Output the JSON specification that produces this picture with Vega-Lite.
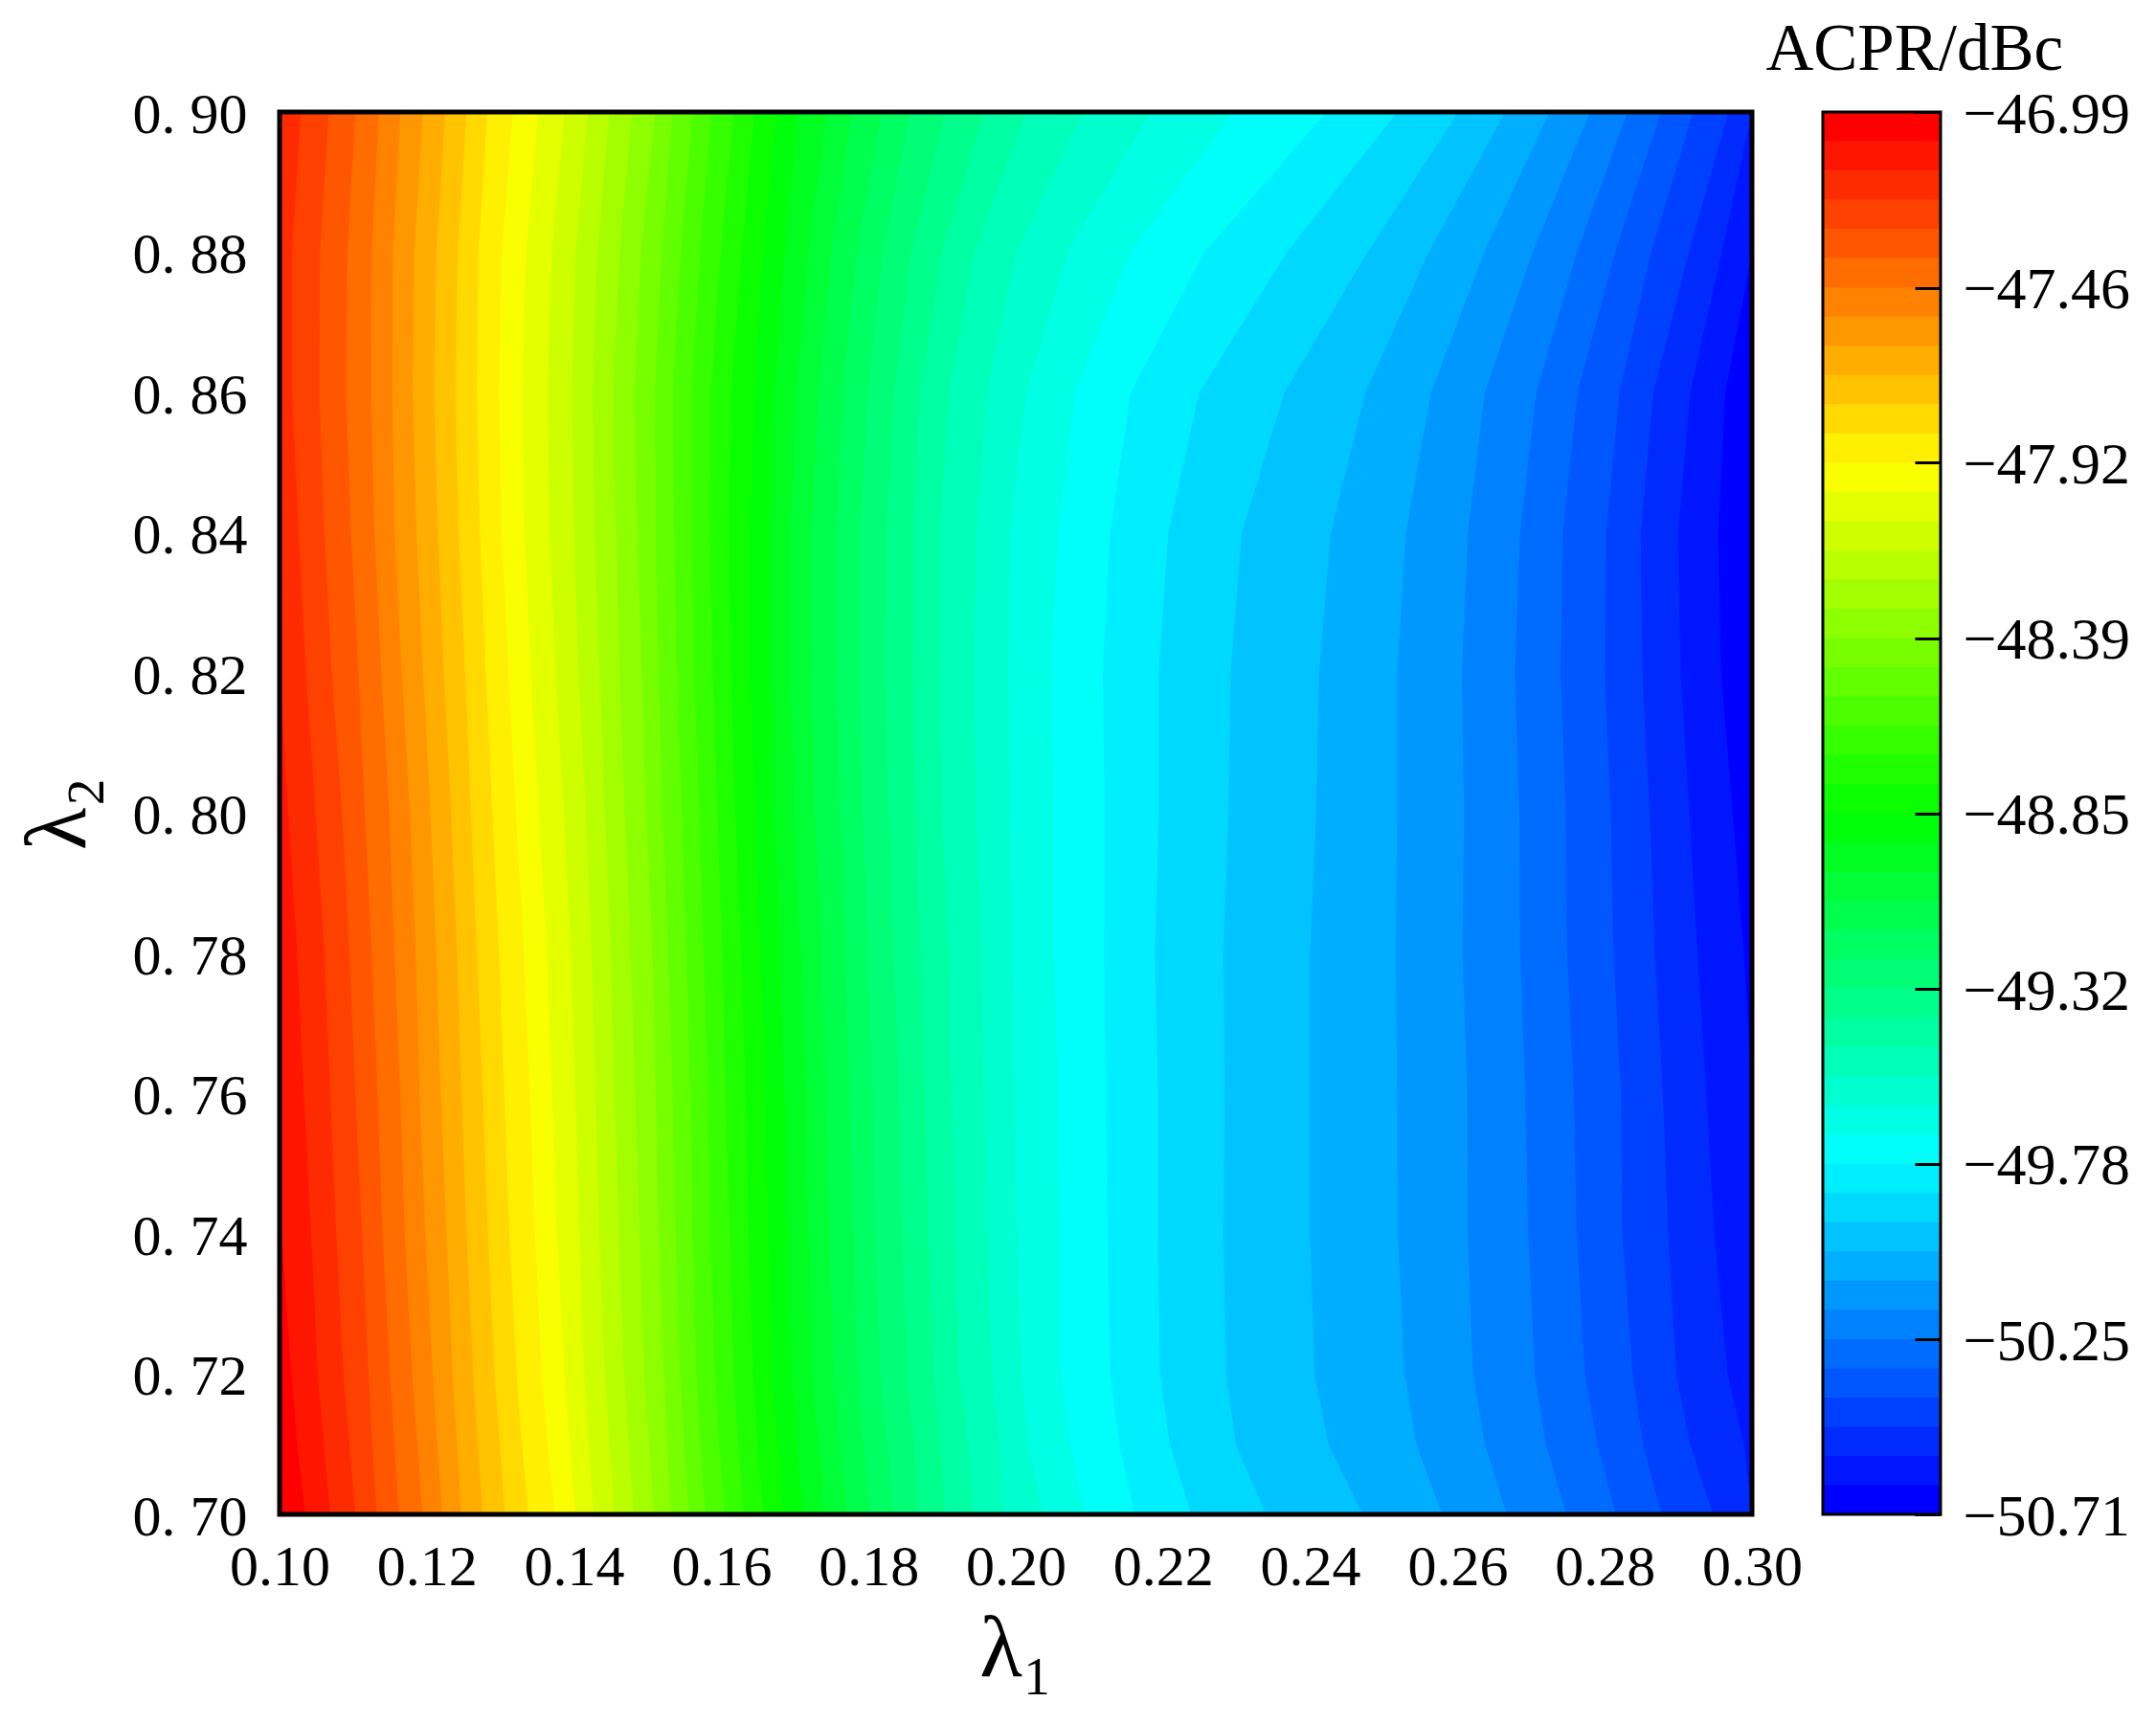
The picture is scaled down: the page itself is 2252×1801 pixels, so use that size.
{
"$schema":"https://vega.github.io/schema/vega-lite/v6.json",
"background":"white",
"padding":{"left":14,"top":18,"right":10,"bottom":10},
"bounds":"flush",
"spacing":74,
"config":{"font":"Liberation Serif","view":{"stroke":null},"axis":{"grid":false,"domain":false,"labelColor":"black","titleColor":"black","labelFont":"Liberation Serif","titleFont":"Liberation Serif","labelFontSize":60,"titleFontWeight":"normal","labelOverlap":false,"labelFlush":false}},
"datasets":{
"contours":[
{"acpr":-47.029,"lambda2":0.7,"lambda1":0.1},{"acpr":-47.029,"lambda2":0.9,"lambda1":0.1},
{"acpr":-47.106,"lambda2":0.7,"lambda1":0.1035},{"acpr":-47.106,"lambda2":0.71,"lambda1":0.1024},{"acpr":-47.106,"lambda2":0.72,"lambda1":0.1016},{"acpr":-47.106,"lambda2":0.74,"lambda1":0.1003},{"acpr":-47.106,"lambda2":0.76,"lambda1":0.1},{"acpr":-47.106,"lambda2":0.9,"lambda1":0.1},
{"acpr":-47.184,"lambda2":0.7,"lambda1":0.1069},{"acpr":-47.184,"lambda2":0.71,"lambda1":0.106},{"acpr":-47.184,"lambda2":0.72,"lambda1":0.1052},{"acpr":-47.184,"lambda2":0.74,"lambda1":0.1043},{"acpr":-47.184,"lambda2":0.76,"lambda1":0.1033},{"acpr":-47.184,"lambda2":0.78,"lambda1":0.1024},{"acpr":-47.184,"lambda2":0.8,"lambda1":0.1012},{"acpr":-47.184,"lambda2":0.82,"lambda1":0.1},{"acpr":-47.184,"lambda2":0.9,"lambda1":0.1},
{"acpr":-47.261,"lambda2":0.7,"lambda1":0.1103},{"acpr":-47.261,"lambda2":0.71,"lambda1":0.1095},{"acpr":-47.261,"lambda2":0.72,"lambda1":0.1087},{"acpr":-47.261,"lambda2":0.74,"lambda1":0.1077},{"acpr":-47.261,"lambda2":0.76,"lambda1":0.1069},{"acpr":-47.261,"lambda2":0.78,"lambda1":0.1061},{"acpr":-47.261,"lambda2":0.8,"lambda1":0.1049},{"acpr":-47.261,"lambda2":0.82,"lambda1":0.1036},{"acpr":-47.261,"lambda2":0.84,"lambda1":0.1026},{"acpr":-47.261,"lambda2":0.86,"lambda1":0.1017},{"acpr":-47.261,"lambda2":0.88,"lambda1":0.1017},{"acpr":-47.261,"lambda2":0.9,"lambda1":0.1029},
{"acpr":-47.339,"lambda2":0.7,"lambda1":0.1132},{"acpr":-47.339,"lambda2":0.71,"lambda1":0.1126},{"acpr":-47.339,"lambda2":0.72,"lambda1":0.1121},{"acpr":-47.339,"lambda2":0.74,"lambda1":0.1112},{"acpr":-47.339,"lambda2":0.76,"lambda1":0.1103},{"acpr":-47.339,"lambda2":0.78,"lambda1":0.1095},{"acpr":-47.339,"lambda2":0.8,"lambda1":0.1085},{"acpr":-47.339,"lambda2":0.82,"lambda1":0.1071},{"acpr":-47.339,"lambda2":0.84,"lambda1":0.1061},{"acpr":-47.339,"lambda2":0.86,"lambda1":0.1054},{"acpr":-47.339,"lambda2":0.88,"lambda1":0.1055},{"acpr":-47.339,"lambda2":0.9,"lambda1":0.1067},
{"acpr":-47.416,"lambda2":0.7,"lambda1":0.1162},{"acpr":-47.416,"lambda2":0.71,"lambda1":0.1156},{"acpr":-47.416,"lambda2":0.72,"lambda1":0.115},{"acpr":-47.416,"lambda2":0.74,"lambda1":0.114},{"acpr":-47.416,"lambda2":0.76,"lambda1":0.1133},{"acpr":-47.416,"lambda2":0.78,"lambda1":0.1125},{"acpr":-47.416,"lambda2":0.8,"lambda1":0.1116},{"acpr":-47.416,"lambda2":0.82,"lambda1":0.1107},{"acpr":-47.416,"lambda2":0.84,"lambda1":0.1097},{"acpr":-47.416,"lambda2":0.86,"lambda1":0.109},{"acpr":-47.416,"lambda2":0.88,"lambda1":0.1092},{"acpr":-47.416,"lambda2":0.9,"lambda1":0.1103},
{"acpr":-47.494,"lambda2":0.7,"lambda1":0.1194},{"acpr":-47.494,"lambda2":0.71,"lambda1":0.1187},{"acpr":-47.494,"lambda2":0.72,"lambda1":0.118},{"acpr":-47.494,"lambda2":0.74,"lambda1":0.117},{"acpr":-47.494,"lambda2":0.76,"lambda1":0.1164},{"acpr":-47.494,"lambda2":0.78,"lambda1":0.1156},{"acpr":-47.494,"lambda2":0.8,"lambda1":0.1149},{"acpr":-47.494,"lambda2":0.82,"lambda1":0.1138},{"acpr":-47.494,"lambda2":0.84,"lambda1":0.1129},{"acpr":-47.494,"lambda2":0.86,"lambda1":0.1124},{"acpr":-47.494,"lambda2":0.88,"lambda1":0.1125},{"acpr":-47.494,"lambda2":0.9,"lambda1":0.1135},
{"acpr":-47.571,"lambda2":0.7,"lambda1":0.1221},{"acpr":-47.571,"lambda2":0.71,"lambda1":0.1214},{"acpr":-47.571,"lambda2":0.72,"lambda1":0.1208},{"acpr":-47.571,"lambda2":0.74,"lambda1":0.1198},{"acpr":-47.571,"lambda2":0.76,"lambda1":0.119},{"acpr":-47.571,"lambda2":0.78,"lambda1":0.1185},{"acpr":-47.571,"lambda2":0.8,"lambda1":0.1177},{"acpr":-47.571,"lambda2":0.82,"lambda1":0.1166},{"acpr":-47.571,"lambda2":0.84,"lambda1":0.1156},{"acpr":-47.571,"lambda2":0.86,"lambda1":0.1153},{"acpr":-47.571,"lambda2":0.88,"lambda1":0.1154},{"acpr":-47.571,"lambda2":0.9,"lambda1":0.1164},
{"acpr":-47.649,"lambda2":0.7,"lambda1":0.1247},{"acpr":-47.649,"lambda2":0.71,"lambda1":0.1241},{"acpr":-47.649,"lambda2":0.72,"lambda1":0.1235},{"acpr":-47.649,"lambda2":0.74,"lambda1":0.1227},{"acpr":-47.649,"lambda2":0.76,"lambda1":0.1219},{"acpr":-47.649,"lambda2":0.78,"lambda1":0.1213},{"acpr":-47.649,"lambda2":0.8,"lambda1":0.1205},{"acpr":-47.649,"lambda2":0.82,"lambda1":0.1195},{"acpr":-47.649,"lambda2":0.84,"lambda1":0.1186},{"acpr":-47.649,"lambda2":0.86,"lambda1":0.1181},{"acpr":-47.649,"lambda2":0.88,"lambda1":0.1183},{"acpr":-47.649,"lambda2":0.9,"lambda1":0.1195},
{"acpr":-47.726,"lambda2":0.7,"lambda1":0.1276},{"acpr":-47.726,"lambda2":0.71,"lambda1":0.1269},{"acpr":-47.726,"lambda2":0.72,"lambda1":0.1263},{"acpr":-47.726,"lambda2":0.74,"lambda1":0.1254},{"acpr":-47.726,"lambda2":0.76,"lambda1":0.1247},{"acpr":-47.726,"lambda2":0.78,"lambda1":0.1241},{"acpr":-47.726,"lambda2":0.8,"lambda1":0.1233},{"acpr":-47.726,"lambda2":0.82,"lambda1":0.1223},{"acpr":-47.726,"lambda2":0.84,"lambda1":0.1215},{"acpr":-47.726,"lambda2":0.86,"lambda1":0.121},{"acpr":-47.726,"lambda2":0.88,"lambda1":0.1213},{"acpr":-47.726,"lambda2":0.9,"lambda1":0.1225},
{"acpr":-47.804,"lambda2":0.7,"lambda1":0.1306},{"acpr":-47.804,"lambda2":0.71,"lambda1":0.1299},{"acpr":-47.804,"lambda2":0.72,"lambda1":0.1292},{"acpr":-47.804,"lambda2":0.74,"lambda1":0.1283},{"acpr":-47.804,"lambda2":0.76,"lambda1":0.1276},{"acpr":-47.804,"lambda2":0.78,"lambda1":0.1268},{"acpr":-47.804,"lambda2":0.8,"lambda1":0.126},{"acpr":-47.804,"lambda2":0.82,"lambda1":0.1252},{"acpr":-47.804,"lambda2":0.84,"lambda1":0.1243},{"acpr":-47.804,"lambda2":0.86,"lambda1":0.1239},{"acpr":-47.804,"lambda2":0.88,"lambda1":0.1242},{"acpr":-47.804,"lambda2":0.9,"lambda1":0.1254},
{"acpr":-47.881,"lambda2":0.7,"lambda1":0.1338},{"acpr":-47.881,"lambda2":0.71,"lambda1":0.1329},{"acpr":-47.881,"lambda2":0.72,"lambda1":0.1322},{"acpr":-47.881,"lambda2":0.74,"lambda1":0.1312},{"acpr":-47.881,"lambda2":0.76,"lambda1":0.1305},{"acpr":-47.881,"lambda2":0.78,"lambda1":0.1298},{"acpr":-47.881,"lambda2":0.8,"lambda1":0.1289},{"acpr":-47.881,"lambda2":0.82,"lambda1":0.128},{"acpr":-47.881,"lambda2":0.84,"lambda1":0.1272},{"acpr":-47.881,"lambda2":0.86,"lambda1":0.1268},{"acpr":-47.881,"lambda2":0.88,"lambda1":0.127},{"acpr":-47.881,"lambda2":0.9,"lambda1":0.1282},
{"acpr":-47.959,"lambda2":0.7,"lambda1":0.1374},{"acpr":-47.959,"lambda2":0.71,"lambda1":0.1364},{"acpr":-47.959,"lambda2":0.72,"lambda1":0.1356},{"acpr":-47.959,"lambda2":0.74,"lambda1":0.1347},{"acpr":-47.959,"lambda2":0.76,"lambda1":0.134},{"acpr":-47.959,"lambda2":0.78,"lambda1":0.1332},{"acpr":-47.959,"lambda2":0.8,"lambda1":0.1321},{"acpr":-47.959,"lambda2":0.82,"lambda1":0.1311},{"acpr":-47.959,"lambda2":0.84,"lambda1":0.1302},{"acpr":-47.959,"lambda2":0.86,"lambda1":0.1298},{"acpr":-47.959,"lambda2":0.88,"lambda1":0.1302},{"acpr":-47.959,"lambda2":0.9,"lambda1":0.1317},
{"acpr":-48.036,"lambda2":0.7,"lambda1":0.1402},{"acpr":-48.036,"lambda2":0.71,"lambda1":0.1394},{"acpr":-48.036,"lambda2":0.72,"lambda1":0.1387},{"acpr":-48.036,"lambda2":0.74,"lambda1":0.1377},{"acpr":-48.036,"lambda2":0.76,"lambda1":0.137},{"acpr":-48.036,"lambda2":0.78,"lambda1":0.1363},{"acpr":-48.036,"lambda2":0.8,"lambda1":0.1352},{"acpr":-48.036,"lambda2":0.82,"lambda1":0.1341},{"acpr":-48.036,"lambda2":0.84,"lambda1":0.1333},{"acpr":-48.036,"lambda2":0.86,"lambda1":0.1329},{"acpr":-48.036,"lambda2":0.88,"lambda1":0.1335},{"acpr":-48.036,"lambda2":0.9,"lambda1":0.1351},
{"acpr":-48.114,"lambda2":0.7,"lambda1":0.1427},{"acpr":-48.114,"lambda2":0.71,"lambda1":0.142},{"acpr":-48.114,"lambda2":0.72,"lambda1":0.1414},{"acpr":-48.114,"lambda2":0.74,"lambda1":0.1407},{"acpr":-48.114,"lambda2":0.76,"lambda1":0.1402},{"acpr":-48.114,"lambda2":0.78,"lambda1":0.1396},{"acpr":-48.114,"lambda2":0.8,"lambda1":0.1386},{"acpr":-48.114,"lambda2":0.82,"lambda1":0.1375},{"acpr":-48.114,"lambda2":0.84,"lambda1":0.1367},{"acpr":-48.114,"lambda2":0.86,"lambda1":0.1364},{"acpr":-48.114,"lambda2":0.88,"lambda1":0.137},{"acpr":-48.114,"lambda2":0.9,"lambda1":0.1387},
{"acpr":-48.191,"lambda2":0.7,"lambda1":0.1455},{"acpr":-48.191,"lambda2":0.71,"lambda1":0.1448},{"acpr":-48.191,"lambda2":0.72,"lambda1":0.1442},{"acpr":-48.191,"lambda2":0.74,"lambda1":0.1434},{"acpr":-48.191,"lambda2":0.76,"lambda1":0.1429},{"acpr":-48.191,"lambda2":0.78,"lambda1":0.1424},{"acpr":-48.191,"lambda2":0.8,"lambda1":0.1416},{"acpr":-48.191,"lambda2":0.82,"lambda1":0.1406},{"acpr":-48.191,"lambda2":0.84,"lambda1":0.14},{"acpr":-48.191,"lambda2":0.86,"lambda1":0.1397},{"acpr":-48.191,"lambda2":0.88,"lambda1":0.1402},{"acpr":-48.191,"lambda2":0.9,"lambda1":0.1419},
{"acpr":-48.269,"lambda2":0.7,"lambda1":0.1481},{"acpr":-48.269,"lambda2":0.71,"lambda1":0.1475},{"acpr":-48.269,"lambda2":0.72,"lambda1":0.1468},{"acpr":-48.269,"lambda2":0.74,"lambda1":0.1461},{"acpr":-48.269,"lambda2":0.76,"lambda1":0.1455},{"acpr":-48.269,"lambda2":0.78,"lambda1":0.145},{"acpr":-48.269,"lambda2":0.8,"lambda1":0.1442},{"acpr":-48.269,"lambda2":0.82,"lambda1":0.1435},{"acpr":-48.269,"lambda2":0.84,"lambda1":0.1428},{"acpr":-48.269,"lambda2":0.86,"lambda1":0.1425},{"acpr":-48.269,"lambda2":0.88,"lambda1":0.1432},{"acpr":-48.269,"lambda2":0.9,"lambda1":0.1448},
{"acpr":-48.346,"lambda2":0.7,"lambda1":0.1509},{"acpr":-48.346,"lambda2":0.71,"lambda1":0.1502},{"acpr":-48.346,"lambda2":0.72,"lambda1":0.1495},{"acpr":-48.346,"lambda2":0.74,"lambda1":0.1489},{"acpr":-48.346,"lambda2":0.76,"lambda1":0.1483},{"acpr":-48.346,"lambda2":0.78,"lambda1":0.1477},{"acpr":-48.346,"lambda2":0.8,"lambda1":0.1469},{"acpr":-48.346,"lambda2":0.82,"lambda1":0.1462},{"acpr":-48.346,"lambda2":0.84,"lambda1":0.1457},{"acpr":-48.346,"lambda2":0.86,"lambda1":0.1453},{"acpr":-48.346,"lambda2":0.88,"lambda1":0.1462},{"acpr":-48.346,"lambda2":0.9,"lambda1":0.1479},
{"acpr":-48.424,"lambda2":0.7,"lambda1":0.1532},{"acpr":-48.424,"lambda2":0.71,"lambda1":0.1527},{"acpr":-48.424,"lambda2":0.72,"lambda1":0.1522},{"acpr":-48.424,"lambda2":0.74,"lambda1":0.1515},{"acpr":-48.424,"lambda2":0.76,"lambda1":0.1511},{"acpr":-48.424,"lambda2":0.78,"lambda1":0.1507},{"acpr":-48.424,"lambda2":0.8,"lambda1":0.1498},{"acpr":-48.424,"lambda2":0.82,"lambda1":0.1492},{"acpr":-48.424,"lambda2":0.84,"lambda1":0.1486},{"acpr":-48.424,"lambda2":0.86,"lambda1":0.1482},{"acpr":-48.424,"lambda2":0.88,"lambda1":0.1491},{"acpr":-48.424,"lambda2":0.9,"lambda1":0.151},
{"acpr":-48.501,"lambda2":0.7,"lambda1":0.1556},{"acpr":-48.501,"lambda2":0.71,"lambda1":0.155},{"acpr":-48.501,"lambda2":0.72,"lambda1":0.1544},{"acpr":-48.501,"lambda2":0.74,"lambda1":0.1538},{"acpr":-48.501,"lambda2":0.76,"lambda1":0.1534},{"acpr":-48.501,"lambda2":0.78,"lambda1":0.1528},{"acpr":-48.501,"lambda2":0.8,"lambda1":0.152},{"acpr":-48.501,"lambda2":0.82,"lambda1":0.1515},{"acpr":-48.501,"lambda2":0.84,"lambda1":0.1511},{"acpr":-48.501,"lambda2":0.86,"lambda1":0.151},{"acpr":-48.501,"lambda2":0.88,"lambda1":0.1519},{"acpr":-48.501,"lambda2":0.9,"lambda1":0.1534},
{"acpr":-48.579,"lambda2":0.7,"lambda1":0.1578},{"acpr":-48.579,"lambda2":0.71,"lambda1":0.1572},{"acpr":-48.579,"lambda2":0.72,"lambda1":0.1566},{"acpr":-48.579,"lambda2":0.74,"lambda1":0.1561},{"acpr":-48.579,"lambda2":0.76,"lambda1":0.1558},{"acpr":-48.579,"lambda2":0.78,"lambda1":0.1553},{"acpr":-48.579,"lambda2":0.8,"lambda1":0.1546},{"acpr":-48.579,"lambda2":0.82,"lambda1":0.154},{"acpr":-48.579,"lambda2":0.84,"lambda1":0.1536},{"acpr":-48.579,"lambda2":0.86,"lambda1":0.1534},{"acpr":-48.579,"lambda2":0.88,"lambda1":0.1545},{"acpr":-48.579,"lambda2":0.9,"lambda1":0.1561},
{"acpr":-48.656,"lambda2":0.7,"lambda1":0.1605},{"acpr":-48.656,"lambda2":0.71,"lambda1":0.1597},{"acpr":-48.656,"lambda2":0.72,"lambda1":0.1591},{"acpr":-48.656,"lambda2":0.74,"lambda1":0.1585},{"acpr":-48.656,"lambda2":0.76,"lambda1":0.1582},{"acpr":-48.656,"lambda2":0.78,"lambda1":0.1576},{"acpr":-48.656,"lambda2":0.8,"lambda1":0.157},{"acpr":-48.656,"lambda2":0.82,"lambda1":0.1563},{"acpr":-48.656,"lambda2":0.84,"lambda1":0.156},{"acpr":-48.656,"lambda2":0.86,"lambda1":0.156},{"acpr":-48.656,"lambda2":0.88,"lambda1":0.1571},{"acpr":-48.656,"lambda2":0.9,"lambda1":0.1587},
{"acpr":-48.734,"lambda2":0.7,"lambda1":0.1631},{"acpr":-48.734,"lambda2":0.71,"lambda1":0.1623},{"acpr":-48.734,"lambda2":0.72,"lambda1":0.1617},{"acpr":-48.734,"lambda2":0.74,"lambda1":0.1611},{"acpr":-48.734,"lambda2":0.76,"lambda1":0.1606},{"acpr":-48.734,"lambda2":0.78,"lambda1":0.1601},{"acpr":-48.734,"lambda2":0.8,"lambda1":0.1595},{"acpr":-48.734,"lambda2":0.82,"lambda1":0.1588},{"acpr":-48.734,"lambda2":0.84,"lambda1":0.1585},{"acpr":-48.734,"lambda2":0.86,"lambda1":0.1586},{"acpr":-48.734,"lambda2":0.88,"lambda1":0.1599},{"acpr":-48.734,"lambda2":0.9,"lambda1":0.1617},
{"acpr":-48.811,"lambda2":0.7,"lambda1":0.1657},{"acpr":-48.811,"lambda2":0.71,"lambda1":0.1649},{"acpr":-48.811,"lambda2":0.72,"lambda1":0.1643},{"acpr":-48.811,"lambda2":0.74,"lambda1":0.1637},{"acpr":-48.811,"lambda2":0.76,"lambda1":0.1633},{"acpr":-48.811,"lambda2":0.78,"lambda1":0.1627},{"acpr":-48.811,"lambda2":0.8,"lambda1":0.1619},{"acpr":-48.811,"lambda2":0.82,"lambda1":0.1613},{"acpr":-48.811,"lambda2":0.84,"lambda1":0.161},{"acpr":-48.811,"lambda2":0.86,"lambda1":0.1613},{"acpr":-48.811,"lambda2":0.88,"lambda1":0.1628},{"acpr":-48.811,"lambda2":0.9,"lambda1":0.1645},
{"acpr":-48.889,"lambda2":0.7,"lambda1":0.1684},{"acpr":-48.889,"lambda2":0.71,"lambda1":0.1676},{"acpr":-48.889,"lambda2":0.72,"lambda1":0.1669},{"acpr":-48.889,"lambda2":0.74,"lambda1":0.1664},{"acpr":-48.889,"lambda2":0.76,"lambda1":0.1659},{"acpr":-48.889,"lambda2":0.78,"lambda1":0.1653},{"acpr":-48.889,"lambda2":0.8,"lambda1":0.1646},{"acpr":-48.889,"lambda2":0.82,"lambda1":0.1639},{"acpr":-48.889,"lambda2":0.84,"lambda1":0.1639},{"acpr":-48.889,"lambda2":0.86,"lambda1":0.1645},{"acpr":-48.889,"lambda2":0.88,"lambda1":0.1656},{"acpr":-48.889,"lambda2":0.9,"lambda1":0.1675},
{"acpr":-48.966,"lambda2":0.7,"lambda1":0.1711},{"acpr":-48.966,"lambda2":0.71,"lambda1":0.1703},{"acpr":-48.966,"lambda2":0.72,"lambda1":0.1696},{"acpr":-48.966,"lambda2":0.74,"lambda1":0.169},{"acpr":-48.966,"lambda2":0.76,"lambda1":0.1686},{"acpr":-48.966,"lambda2":0.78,"lambda1":0.168},{"acpr":-48.966,"lambda2":0.8,"lambda1":0.1672},{"acpr":-48.966,"lambda2":0.82,"lambda1":0.1667},{"acpr":-48.966,"lambda2":0.84,"lambda1":0.1667},{"acpr":-48.966,"lambda2":0.86,"lambda1":0.1673},{"acpr":-48.966,"lambda2":0.88,"lambda1":0.1686},{"acpr":-48.966,"lambda2":0.9,"lambda1":0.1705},
{"acpr":-49.044,"lambda2":0.7,"lambda1":0.174},{"acpr":-49.044,"lambda2":0.71,"lambda1":0.1731},{"acpr":-49.044,"lambda2":0.72,"lambda1":0.1724},{"acpr":-49.044,"lambda2":0.74,"lambda1":0.1718},{"acpr":-49.044,"lambda2":0.76,"lambda1":0.1714},{"acpr":-49.044,"lambda2":0.78,"lambda1":0.1708},{"acpr":-49.044,"lambda2":0.8,"lambda1":0.1699},{"acpr":-49.044,"lambda2":0.82,"lambda1":0.1694},{"acpr":-49.044,"lambda2":0.84,"lambda1":0.1694},{"acpr":-49.044,"lambda2":0.86,"lambda1":0.1702},{"acpr":-49.044,"lambda2":0.88,"lambda1":0.1718},{"acpr":-49.044,"lambda2":0.9,"lambda1":0.1743},
{"acpr":-49.121,"lambda2":0.7,"lambda1":0.1771},{"acpr":-49.121,"lambda2":0.71,"lambda1":0.1761},{"acpr":-49.121,"lambda2":0.72,"lambda1":0.1753},{"acpr":-49.121,"lambda2":0.74,"lambda1":0.1747},{"acpr":-49.121,"lambda2":0.76,"lambda1":0.1742},{"acpr":-49.121,"lambda2":0.78,"lambda1":0.1737},{"acpr":-49.121,"lambda2":0.8,"lambda1":0.1727},{"acpr":-49.121,"lambda2":0.82,"lambda1":0.1722},{"acpr":-49.121,"lambda2":0.84,"lambda1":0.1723},{"acpr":-49.121,"lambda2":0.86,"lambda1":0.1732},{"acpr":-49.121,"lambda2":0.88,"lambda1":0.175},{"acpr":-49.121,"lambda2":0.9,"lambda1":0.1777},
{"acpr":-49.199,"lambda2":0.7,"lambda1":0.1802},{"acpr":-49.199,"lambda2":0.71,"lambda1":0.1793},{"acpr":-49.199,"lambda2":0.72,"lambda1":0.1785},{"acpr":-49.199,"lambda2":0.74,"lambda1":0.1779},{"acpr":-49.199,"lambda2":0.76,"lambda1":0.1774},{"acpr":-49.199,"lambda2":0.78,"lambda1":0.1769},{"acpr":-49.199,"lambda2":0.8,"lambda1":0.1761},{"acpr":-49.199,"lambda2":0.82,"lambda1":0.1755},{"acpr":-49.199,"lambda2":0.84,"lambda1":0.1756},{"acpr":-49.199,"lambda2":0.86,"lambda1":0.1765},{"acpr":-49.199,"lambda2":0.88,"lambda1":0.1784},{"acpr":-49.199,"lambda2":0.9,"lambda1":0.1818},
{"acpr":-49.276,"lambda2":0.7,"lambda1":0.1835},{"acpr":-49.276,"lambda2":0.71,"lambda1":0.1826},{"acpr":-49.276,"lambda2":0.72,"lambda1":0.1816},{"acpr":-49.276,"lambda2":0.74,"lambda1":0.181},{"acpr":-49.276,"lambda2":0.76,"lambda1":0.1806},{"acpr":-49.276,"lambda2":0.78,"lambda1":0.18},{"acpr":-49.276,"lambda2":0.8,"lambda1":0.1792},{"acpr":-49.276,"lambda2":0.82,"lambda1":0.1789},{"acpr":-49.276,"lambda2":0.84,"lambda1":0.1789},{"acpr":-49.276,"lambda2":0.86,"lambda1":0.1799},{"acpr":-49.276,"lambda2":0.88,"lambda1":0.182},{"acpr":-49.276,"lambda2":0.9,"lambda1":0.1857},
{"acpr":-49.354,"lambda2":0.7,"lambda1":0.1868},{"acpr":-49.354,"lambda2":0.71,"lambda1":0.1862},{"acpr":-49.354,"lambda2":0.72,"lambda1":0.1852},{"acpr":-49.354,"lambda2":0.74,"lambda1":0.1846},{"acpr":-49.354,"lambda2":0.76,"lambda1":0.1841},{"acpr":-49.354,"lambda2":0.78,"lambda1":0.1835},{"acpr":-49.354,"lambda2":0.8,"lambda1":0.1827},{"acpr":-49.354,"lambda2":0.82,"lambda1":0.1823},{"acpr":-49.354,"lambda2":0.84,"lambda1":0.1824},{"acpr":-49.354,"lambda2":0.86,"lambda1":0.1835},{"acpr":-49.354,"lambda2":0.88,"lambda1":0.1858},{"acpr":-49.354,"lambda2":0.9,"lambda1":0.1905},
{"acpr":-49.431,"lambda2":0.7,"lambda1":0.1904},{"acpr":-49.431,"lambda2":0.71,"lambda1":0.1898},{"acpr":-49.431,"lambda2":0.72,"lambda1":0.1889},{"acpr":-49.431,"lambda2":0.74,"lambda1":0.1881},{"acpr":-49.431,"lambda2":0.76,"lambda1":0.1877},{"acpr":-49.431,"lambda2":0.78,"lambda1":0.1871},{"acpr":-49.431,"lambda2":0.8,"lambda1":0.1864},{"acpr":-49.431,"lambda2":0.82,"lambda1":0.186},{"acpr":-49.431,"lambda2":0.84,"lambda1":0.1861},{"acpr":-49.431,"lambda2":0.86,"lambda1":0.187},{"acpr":-49.431,"lambda2":0.88,"lambda1":0.19},{"acpr":-49.431,"lambda2":0.9,"lambda1":0.1957},
{"acpr":-49.509,"lambda2":0.7,"lambda1":0.1941},{"acpr":-49.509,"lambda2":0.71,"lambda1":0.1935},{"acpr":-49.509,"lambda2":0.72,"lambda1":0.1923},{"acpr":-49.509,"lambda2":0.74,"lambda1":0.1917},{"acpr":-49.509,"lambda2":0.76,"lambda1":0.1913},{"acpr":-49.509,"lambda2":0.78,"lambda1":0.1908},{"acpr":-49.509,"lambda2":0.8,"lambda1":0.19},{"acpr":-49.509,"lambda2":0.82,"lambda1":0.1896},{"acpr":-49.509,"lambda2":0.84,"lambda1":0.1897},{"acpr":-49.509,"lambda2":0.86,"lambda1":0.1909},{"acpr":-49.509,"lambda2":0.88,"lambda1":0.1944},{"acpr":-49.509,"lambda2":0.9,"lambda1":0.2014},
{"acpr":-49.586,"lambda2":0.7,"lambda1":0.1984},{"acpr":-49.586,"lambda2":0.71,"lambda1":0.1978},{"acpr":-49.586,"lambda2":0.72,"lambda1":0.1968},{"acpr":-49.586,"lambda2":0.74,"lambda1":0.1961},{"acpr":-49.586,"lambda2":0.76,"lambda1":0.1958},{"acpr":-49.586,"lambda2":0.78,"lambda1":0.1953},{"acpr":-49.586,"lambda2":0.8,"lambda1":0.1946},{"acpr":-49.586,"lambda2":0.82,"lambda1":0.1944},{"acpr":-49.586,"lambda2":0.84,"lambda1":0.1946},{"acpr":-49.586,"lambda2":0.86,"lambda1":0.1961},{"acpr":-49.586,"lambda2":0.88,"lambda1":0.2},{"acpr":-49.586,"lambda2":0.9,"lambda1":0.2093},
{"acpr":-49.664,"lambda2":0.7,"lambda1":0.2037},{"acpr":-49.664,"lambda2":0.71,"lambda1":0.2017},{"acpr":-49.664,"lambda2":0.72,"lambda1":0.2008},{"acpr":-49.664,"lambda2":0.74,"lambda1":0.2001},{"acpr":-49.664,"lambda2":0.76,"lambda1":0.1999},{"acpr":-49.664,"lambda2":0.78,"lambda1":0.1995},{"acpr":-49.664,"lambda2":0.8,"lambda1":0.1992},{"acpr":-49.664,"lambda2":0.82,"lambda1":0.199},{"acpr":-49.664,"lambda2":0.84,"lambda1":0.1992},{"acpr":-49.664,"lambda2":0.86,"lambda1":0.2014},{"acpr":-49.664,"lambda2":0.88,"lambda1":0.207},{"acpr":-49.664,"lambda2":0.9,"lambda1":0.2183},
{"acpr":-49.741,"lambda2":0.7,"lambda1":0.2092},{"acpr":-49.741,"lambda2":0.71,"lambda1":0.2074},{"acpr":-49.741,"lambda2":0.72,"lambda1":0.2061},{"acpr":-49.741,"lambda2":0.74,"lambda1":0.206},{"acpr":-49.741,"lambda2":0.76,"lambda1":0.2057},{"acpr":-49.741,"lambda2":0.78,"lambda1":0.2052},{"acpr":-49.741,"lambda2":0.8,"lambda1":0.2052},{"acpr":-49.741,"lambda2":0.82,"lambda1":0.2048},{"acpr":-49.741,"lambda2":0.84,"lambda1":0.2057},{"acpr":-49.741,"lambda2":0.86,"lambda1":0.208},{"acpr":-49.741,"lambda2":0.88,"lambda1":0.2156},{"acpr":-49.741,"lambda2":0.9,"lambda1":0.2295},
{"acpr":-49.819,"lambda2":0.7,"lambda1":0.2161},{"acpr":-49.819,"lambda2":0.71,"lambda1":0.2141},{"acpr":-49.819,"lambda2":0.72,"lambda1":0.2128},{"acpr":-49.819,"lambda2":0.74,"lambda1":0.2125},{"acpr":-49.819,"lambda2":0.76,"lambda1":0.2122},{"acpr":-49.819,"lambda2":0.78,"lambda1":0.212},{"acpr":-49.819,"lambda2":0.8,"lambda1":0.2121},{"acpr":-49.819,"lambda2":0.82,"lambda1":0.2118},{"acpr":-49.819,"lambda2":0.84,"lambda1":0.2128},{"acpr":-49.819,"lambda2":0.86,"lambda1":0.2156},{"acpr":-49.819,"lambda2":0.88,"lambda1":0.2256},{"acpr":-49.819,"lambda2":0.9,"lambda1":0.2422},
{"acpr":-49.896,"lambda2":0.7,"lambda1":0.2238},{"acpr":-49.896,"lambda2":0.71,"lambda1":0.2209},{"acpr":-49.896,"lambda2":0.72,"lambda1":0.2196},{"acpr":-49.896,"lambda2":0.74,"lambda1":0.2193},{"acpr":-49.896,"lambda2":0.76,"lambda1":0.2193},{"acpr":-49.896,"lambda2":0.78,"lambda1":0.2189},{"acpr":-49.896,"lambda2":0.8,"lambda1":0.2194},{"acpr":-49.896,"lambda2":0.82,"lambda1":0.2194},{"acpr":-49.896,"lambda2":0.84,"lambda1":0.2207},{"acpr":-49.896,"lambda2":0.86,"lambda1":0.2249},{"acpr":-49.896,"lambda2":0.88,"lambda1":0.2368},{"acpr":-49.896,"lambda2":0.9,"lambda1":0.2518},
{"acpr":-49.974,"lambda2":0.7,"lambda1":0.234},{"acpr":-49.974,"lambda2":0.71,"lambda1":0.2299},{"acpr":-49.974,"lambda2":0.72,"lambda1":0.2286},{"acpr":-49.974,"lambda2":0.74,"lambda1":0.2282},{"acpr":-49.974,"lambda2":0.76,"lambda1":0.2284},{"acpr":-49.974,"lambda2":0.78,"lambda1":0.2282},{"acpr":-49.974,"lambda2":0.8,"lambda1":0.2289},{"acpr":-49.974,"lambda2":0.82,"lambda1":0.2292},{"acpr":-49.974,"lambda2":0.84,"lambda1":0.2307},{"acpr":-49.974,"lambda2":0.86,"lambda1":0.2365},{"acpr":-49.974,"lambda2":0.88,"lambda1":0.2478},{"acpr":-49.974,"lambda2":0.9,"lambda1":0.2601},
{"acpr":-50.051,"lambda2":0.7,"lambda1":0.2471},{"acpr":-50.051,"lambda2":0.71,"lambda1":0.2425},{"acpr":-50.051,"lambda2":0.72,"lambda1":0.2406},{"acpr":-50.051,"lambda2":0.74,"lambda1":0.24},{"acpr":-50.051,"lambda2":0.76,"lambda1":0.24},{"acpr":-50.051,"lambda2":0.78,"lambda1":0.24},{"acpr":-50.051,"lambda2":0.8,"lambda1":0.2408},{"acpr":-50.051,"lambda2":0.82,"lambda1":0.2412},{"acpr":-50.051,"lambda2":0.84,"lambda1":0.2428},{"acpr":-50.051,"lambda2":0.86,"lambda1":0.2475},{"acpr":-50.051,"lambda2":0.88,"lambda1":0.2561},{"acpr":-50.051,"lambda2":0.9,"lambda1":0.2665},
{"acpr":-50.129,"lambda2":0.7,"lambda1":0.2579},{"acpr":-50.129,"lambda2":0.71,"lambda1":0.2544},{"acpr":-50.129,"lambda2":0.72,"lambda1":0.2528},{"acpr":-50.129,"lambda2":0.74,"lambda1":0.2519},{"acpr":-50.129,"lambda2":0.76,"lambda1":0.2518},{"acpr":-50.129,"lambda2":0.78,"lambda1":0.2516},{"acpr":-50.129,"lambda2":0.8,"lambda1":0.2518},{"acpr":-50.129,"lambda2":0.82,"lambda1":0.2518},{"acpr":-50.129,"lambda2":0.84,"lambda1":0.253},{"acpr":-50.129,"lambda2":0.86,"lambda1":0.2564},{"acpr":-50.129,"lambda2":0.88,"lambda1":0.2636},{"acpr":-50.129,"lambda2":0.9,"lambda1":0.2725},
{"acpr":-50.206,"lambda2":0.7,"lambda1":0.2667},{"acpr":-50.206,"lambda2":0.71,"lambda1":0.2637},{"acpr":-50.206,"lambda2":0.72,"lambda1":0.2621},{"acpr":-50.206,"lambda2":0.74,"lambda1":0.2614},{"acpr":-50.206,"lambda2":0.76,"lambda1":0.2613},{"acpr":-50.206,"lambda2":0.78,"lambda1":0.2607},{"acpr":-50.206,"lambda2":0.8,"lambda1":0.2609},{"acpr":-50.206,"lambda2":0.82,"lambda1":0.2606},{"acpr":-50.206,"lambda2":0.84,"lambda1":0.2614},{"acpr":-50.206,"lambda2":0.86,"lambda1":0.2637},{"acpr":-50.206,"lambda2":0.88,"lambda1":0.2702},{"acpr":-50.206,"lambda2":0.9,"lambda1":0.278},
{"acpr":-50.284,"lambda2":0.7,"lambda1":0.2748},{"acpr":-50.284,"lambda2":0.71,"lambda1":0.272},{"acpr":-50.284,"lambda2":0.72,"lambda1":0.2705},{"acpr":-50.284,"lambda2":0.74,"lambda1":0.2696},{"acpr":-50.284,"lambda2":0.76,"lambda1":0.2692},{"acpr":-50.284,"lambda2":0.78,"lambda1":0.2685},{"acpr":-50.284,"lambda2":0.8,"lambda1":0.2684},{"acpr":-50.284,"lambda2":0.82,"lambda1":0.2678},{"acpr":-50.284,"lambda2":0.84,"lambda1":0.2685},{"acpr":-50.284,"lambda2":0.86,"lambda1":0.2707},{"acpr":-50.284,"lambda2":0.88,"lambda1":0.2762},{"acpr":-50.284,"lambda2":0.9,"lambda1":0.2831},
{"acpr":-50.361,"lambda2":0.7,"lambda1":0.2815},{"acpr":-50.361,"lambda2":0.71,"lambda1":0.279},{"acpr":-50.361,"lambda2":0.72,"lambda1":0.2773},{"acpr":-50.361,"lambda2":0.74,"lambda1":0.2762},{"acpr":-50.361,"lambda2":0.76,"lambda1":0.2758},{"acpr":-50.361,"lambda2":0.78,"lambda1":0.2749},{"acpr":-50.361,"lambda2":0.8,"lambda1":0.2747},{"acpr":-50.361,"lambda2":0.82,"lambda1":0.274},{"acpr":-50.361,"lambda2":0.84,"lambda1":0.2743},{"acpr":-50.361,"lambda2":0.86,"lambda1":0.2763},{"acpr":-50.361,"lambda2":0.88,"lambda1":0.2814},{"acpr":-50.361,"lambda2":0.9,"lambda1":0.2876},
{"acpr":-50.439,"lambda2":0.7,"lambda1":0.2877},{"acpr":-50.439,"lambda2":0.71,"lambda1":0.2852},{"acpr":-50.439,"lambda2":0.72,"lambda1":0.2838},{"acpr":-50.439,"lambda2":0.74,"lambda1":0.2824},{"acpr":-50.439,"lambda2":0.76,"lambda1":0.2822},{"acpr":-50.439,"lambda2":0.78,"lambda1":0.2812},{"acpr":-50.439,"lambda2":0.8,"lambda1":0.2808},{"acpr":-50.439,"lambda2":0.82,"lambda1":0.28},{"acpr":-50.439,"lambda2":0.84,"lambda1":0.2802},{"acpr":-50.439,"lambda2":0.86,"lambda1":0.282},{"acpr":-50.439,"lambda2":0.88,"lambda1":0.2863},{"acpr":-50.439,"lambda2":0.9,"lambda1":0.292},
{"acpr":-50.516,"lambda2":0.7,"lambda1":0.2947},{"acpr":-50.516,"lambda2":0.71,"lambda1":0.2916},{"acpr":-50.516,"lambda2":0.72,"lambda1":0.2897},{"acpr":-50.516,"lambda2":0.74,"lambda1":0.2886},{"acpr":-50.516,"lambda2":0.76,"lambda1":0.2879},{"acpr":-50.516,"lambda2":0.78,"lambda1":0.2868},{"acpr":-50.516,"lambda2":0.8,"lambda1":0.2861},{"acpr":-50.516,"lambda2":0.82,"lambda1":0.2851},{"acpr":-50.516,"lambda2":0.84,"lambda1":0.2849},{"acpr":-50.516,"lambda2":0.86,"lambda1":0.2866},{"acpr":-50.516,"lambda2":0.88,"lambda1":0.2914},{"acpr":-50.516,"lambda2":0.9,"lambda1":0.2968},
{"acpr":-50.594,"lambda2":0.7,"lambda1":0.3},{"acpr":-50.594,"lambda2":0.71,"lambda1":0.2989},{"acpr":-50.594,"lambda2":0.72,"lambda1":0.2967},{"acpr":-50.594,"lambda2":0.74,"lambda1":0.2949},{"acpr":-50.594,"lambda2":0.76,"lambda1":0.2938},{"acpr":-50.594,"lambda2":0.78,"lambda1":0.2926},{"acpr":-50.594,"lambda2":0.8,"lambda1":0.2915},{"acpr":-50.594,"lambda2":0.82,"lambda1":0.2903},{"acpr":-50.594,"lambda2":0.84,"lambda1":0.29},{"acpr":-50.594,"lambda2":0.86,"lambda1":0.2916},{"acpr":-50.594,"lambda2":0.88,"lambda1":0.2959},{"acpr":-50.594,"lambda2":0.9,"lambda1":0.3},
{"acpr":-50.671,"lambda2":0.76,"lambda1":0.3},{"acpr":-50.671,"lambda2":0.78,"lambda1":0.2989},{"acpr":-50.671,"lambda2":0.8,"lambda1":0.2974},{"acpr":-50.671,"lambda2":0.82,"lambda1":0.2958},{"acpr":-50.671,"lambda2":0.84,"lambda1":0.2954},{"acpr":-50.671,"lambda2":0.86,"lambda1":0.2964},{"acpr":-50.671,"lambda2":0.88,"lambda1":0.3}
],
"colorbar":[
{"acpr":-47.029,"upper":-46.99},{"acpr":-47.106,"upper":-47.0675},{"acpr":-47.184,"upper":-47.145},{"acpr":-47.261,"upper":-47.2225},{"acpr":-47.339,"upper":-47.3},{"acpr":-47.416,"upper":-47.3775},{"acpr":-47.494,"upper":-47.455},{"acpr":-47.571,"upper":-47.5325},{"acpr":-47.649,"upper":-47.61},{"acpr":-47.726,"upper":-47.6875},{"acpr":-47.804,"upper":-47.765},{"acpr":-47.881,"upper":-47.8425},
{"acpr":-47.959,"upper":-47.92},{"acpr":-48.036,"upper":-47.9975},{"acpr":-48.114,"upper":-48.075},{"acpr":-48.191,"upper":-48.1525},{"acpr":-48.269,"upper":-48.23},{"acpr":-48.346,"upper":-48.3075},{"acpr":-48.424,"upper":-48.385},{"acpr":-48.501,"upper":-48.4625},{"acpr":-48.579,"upper":-48.54},{"acpr":-48.656,"upper":-48.6175},{"acpr":-48.734,"upper":-48.695},{"acpr":-48.811,"upper":-48.7725},
{"acpr":-48.889,"upper":-48.85},{"acpr":-48.966,"upper":-48.9275},{"acpr":-49.044,"upper":-49.005},{"acpr":-49.121,"upper":-49.0825},{"acpr":-49.199,"upper":-49.16},{"acpr":-49.276,"upper":-49.2375},{"acpr":-49.354,"upper":-49.315},{"acpr":-49.431,"upper":-49.3925},{"acpr":-49.509,"upper":-49.47},{"acpr":-49.586,"upper":-49.5475},{"acpr":-49.664,"upper":-49.625},{"acpr":-49.741,"upper":-49.7025},
{"acpr":-49.819,"upper":-49.78},{"acpr":-49.896,"upper":-49.8575},{"acpr":-49.974,"upper":-49.935},{"acpr":-50.051,"upper":-50.0125},{"acpr":-50.129,"upper":-50.09},{"acpr":-50.206,"upper":-50.1675},{"acpr":-50.284,"upper":-50.245},{"acpr":-50.361,"upper":-50.3225},{"acpr":-50.439,"upper":-50.4},{"acpr":-50.516,"upper":-50.4775},{"acpr":-50.594,"upper":-50.555},{"acpr":-50.671,"upper":-50.6325}
]
},
"hconcat":[
{
"width":1538,
"height":1465,
"layer":[
{
"data":{"name":"contours"},
"mark":{"type":"area","orient":"horizontal","clip":true},
"encoding":{
"x":{"field":"lambda1","type":"quantitative","scale":{"domain":[0.1,0.3],"nice":false,"zero":false},
"axis":{"title":"λ₁","titleFontSize":92,"titlePadding":10,"tickSize":0,"labelPadding":26,"values":[0.1,0.12,0.14,0.16,0.18,0.2,0.22,0.24,0.26,0.28,0.3],"format":".2f"}},
"x2":{"datum":0.3},
"y":{"field":"lambda2","type":"quantitative","scale":{"domain":[0.7,0.9],"nice":false,"zero":false},
"axis":{"title":"λ₂","titleFontSize":92,"titlePadding":31,"tickSize":0,"labelPadding":34,"labelOffset":3,"values":[0.7,0.72,0.74,0.76,0.78,0.8,0.82,0.84,0.86,0.88,0.9],"labelExpr":"replace(format(datum.value,'.2f'),'.','. ')"}},
"detail":{"field":"acpr"},
"color":{"field":"acpr","type":"quantitative","legend":null,"scale":{"domain":[-50.67125,-49.760625,-48.85,-47.939375,-47.02875],"range":["#0000ff","#00ffff","#00ff00","#ffff00","#ff0000"],"interpolate":"rgb","clamp":true}}
}
},
{
"data":{"values":[{}]},
"mark":{"type":"rect","filled":false,"stroke":"black","strokeWidth":5},
"encoding":{}
}
]
},
{
"width":123,
"height":1465,
"title":{"text":"ACPR/dBc","fontSize":69,"fontWeight":"normal","font":"Liberation Serif","color":"black","anchor":"start","baseline":"alphabetic","offset":-54,"dx":-58},
"layer":[
{
"data":{"name":"colorbar"},
"mark":{"type":"rect"},
"encoding":{
"y":{"field":"upper","type":"quantitative","scale":{"domain":[-50.71,-46.99],"nice":false,"zero":false},
"axis":{"orient":"right","title":null,"zindex":1,"tickSize":-27,"tickWidth":3,"tickColor":"black","labelFontSize":62,"labelPadding":50,"labelOffset":2,"values":[-46.99,-47.456,-47.92,-48.386,-48.85,-49.316,-49.78,-50.246,-50.71],"format":".2f"}},
"y2":{"datum":-50.71},
"color":{"field":"acpr","type":"quantitative","legend":null,"scale":{"domain":[-50.67125,-49.760625,-48.85,-47.939375,-47.02875],"range":["#0000ff","#00ffff","#00ff00","#ffff00","#ff0000"],"interpolate":"rgb","clamp":true}}
}
},
{
"data":{"values":[{}]},
"mark":{"type":"rect","filled":false,"stroke":"black","strokeWidth":3},
"encoding":{}
}
]
}
]
}
